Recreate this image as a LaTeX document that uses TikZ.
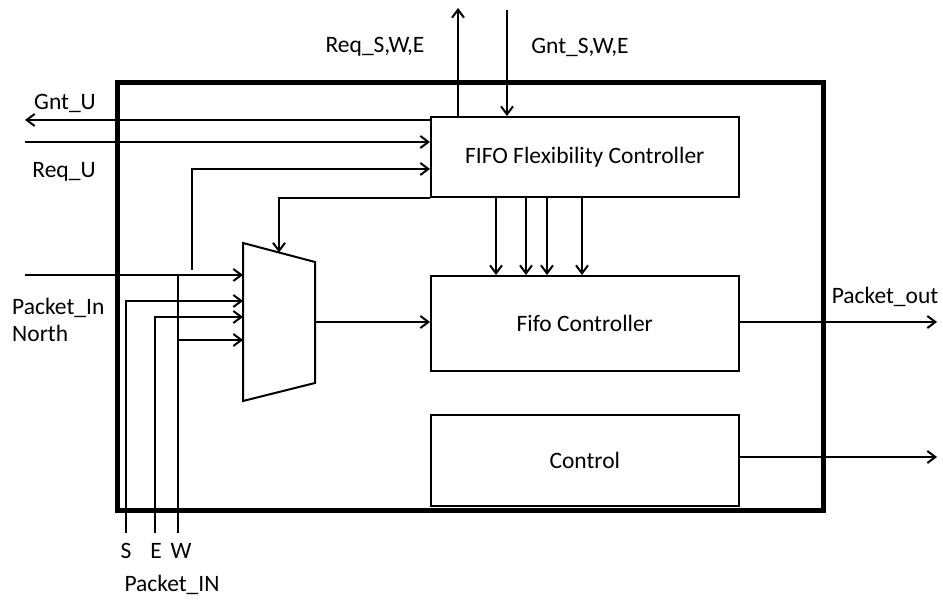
\documentclass[tikz,border=0pt]{standalone}
\usepackage{fontspec}
\setmainfont{Carlito}
\usetikzlibrary{arrows.meta,calc}
\begin{document}
\begin{tikzpicture}[x=1pt,y=-1pt,
  wire/.style={line width=2.1pt},
  arr/.style={wire,-{Straight Barb[length=8pt,width=12pt,line width=2pt]}},
  blk/.style={draw,line width=1.6pt,anchor=north west,minimum width=308pt,inner sep=0pt,font=\fontsize{23.5}{27}\selectfont},
  lbl/.style={inner sep=0pt,font=\fontsize{23.5}{27}\selectfont}]
\useasboundingbox (0,0) rectangle (943,601);
% outer frame
\node[draw,line width=5pt,anchor=north west,minimum width=706pt,minimum height=428pt,inner sep=0pt] (outer) at (115,80) {};
% blocks
\node[blk,minimum height=80pt] (ff) at (430,116) {FIFO Flexibility Controller};
\node[blk,minimum height=95pt] (fc) at (430,275) {Fifo Controller};
\node[blk,minimum height=91pt] (ctl) at (430,414) {Control};
% mux
\coordinate (m1) at (243,243);
\coordinate (m2) at (315,262);
\coordinate (m3) at (315,383);
\coordinate (m4) at (243,401);
\draw[line width=2pt,line join=miter] (m1) -- (m2) -- (m3) -- (m4) -- cycle;
\coordinate (msel) at ($(m1)!0.5!(m2)$);
\coordinate (mout) at (315,322);
% top signals
\coordinate (reqtop) at (458,8);
\coordinate (gnttop) at (507,10);
\draw[arr] (ff.north -| reqtop) -- (reqtop);
\draw[arr] (gnttop) -- (gnttop |- ff.north);
% left signals
\coordinate (gntu) at (25,120);
\coordinate (requ) at (25,142);
\draw[arr] (ff.west |- gntu) -- (gntu);
\draw[arr] (requ) -- (ff.west |- requ);
% select feedback
\coordinate (sel) at (192,270);
\coordinate (selc) at (192,169);
\draw[arr] (sel) -- (selc) -- (ff.west |- selc);
\draw[arr] (ff.south west) -| (msel);
% mux output
\draw[arr] (mout) -- (fc.west |- mout);
% four control arrows
\foreach \x [count=\i] in {496,526,547,582} {
  \coordinate (t\i) at (\x,0);
  \draw[arr] (ff.south -| t\i) -- (fc.north -| t\i);
}
% outputs
\coordinate (pout) at (937,322);
\coordinate (cout) at (937,457);
\draw[arr] (fc.east |- pout) -- (pout);
\draw[arr] (ctl.east |- cout) -- (cout);
% mux inputs
\coordinate (nin) at (25,275);
\draw[arr] (nin) -- (m1 |- nin);
\coordinate (sb) at (126,533);
\coordinate (sk) at (126,301);
\draw[arr] (sb) -- (sk) -- (m1 |- sk);
\coordinate (eb) at (155,533);
\coordinate (ek) at (155,317);
\draw[arr] (eb) -- (ek) -- (m1 |- ek);
\coordinate (wb) at (178,533);
\coordinate (wk) at (178,275);
\coordinate (wj) at (178,340);
\draw[wire] (wb) -- (wk);
\draw[arr] (wj) -- (m1 |- wj);
% labels
\node[lbl] (lreq) at (375,47) {Req\_S,W,E};
\node[lbl] (lgnt) at (580,47) {Gnt\_S,W,E};
\node[lbl] (lgntu) at (65,103) {Gnt\_U};
\node[lbl] (lrequ) at (64,172) {Req\_U};
\node[lbl,anchor=west,align=left] (lpin) at (12,320) {Packet\_In\\North};
\node[lbl] (ls) at (126,551) {S};
\node[lbl] (le) at (156,551) {E};
\node[lbl] (lw) at (181,551) {W};
\node[lbl] (lpkt) at (172,585) {Packet\_IN};
\node[lbl] (lpout) at (885,297) {Packet\_out};
\end{tikzpicture}
\end{document}
